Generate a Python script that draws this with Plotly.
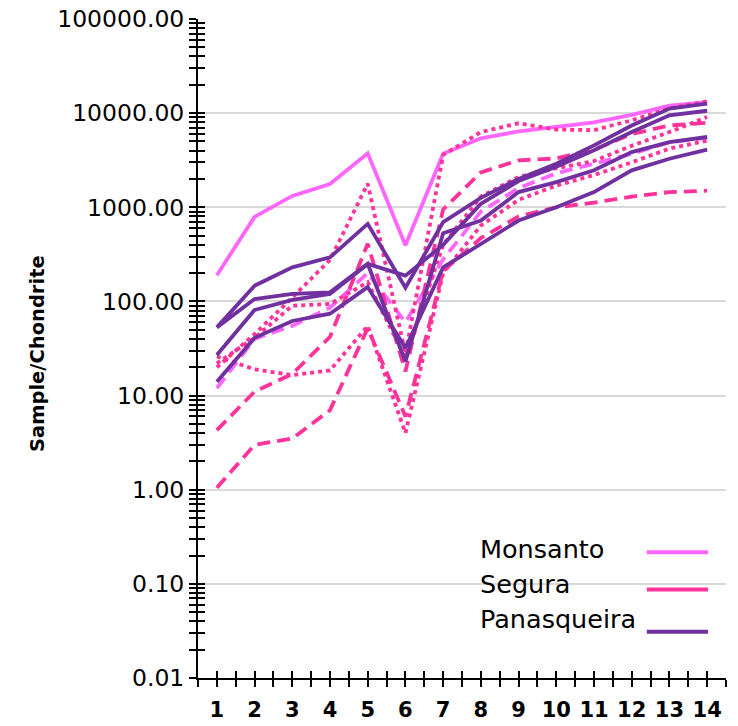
import plotly.graph_objects as go

# REE-style chondrite-normalised patterns, 14 elements per sample
positions = list(range(1, 15))
position_labels = [str(p) for p in positions]

# Monsanto samples
monsanto_a = [190, 790, 1320, 1770, 3750, 395, 3700, 5400, 6400, 7100, 8000, 9600, 12000, 13100]
monsanto_b = [12, 40, 55, 86, 200, 60, 280, 900, 1600, 2300, 2900, 3700, 4900, 5500]

# Segura samples
segura_a = [1.05, 3.0, 3.5, 7, 52, 6, 210, 470, 800, 1000, 1120, 1300, 1450, 1500]
segura_b = [4.3, 11, 17, 42, 410, 18, 950, 2350, 3150, 3300, 4100, 6000, 7400, 7900]
segura_c = [20, 45, 110, 276, 1780, 28, 3600, 6300, 7800, 6700, 6600, 8400, 11200, 13400]
segura_d = [22, 41, 90, 94, 160, 25, 400, 1300, 2100, 2600, 3100, 4500, 6300, 9100]
segura_e = [26, 19, 16.5, 18.5, 55, 4, 200, 640, 1200, 1700, 2200, 3000, 4200, 5100]

# Panasqueira samples
panas_a = [53, 147, 230, 294, 667, 140, 695, 1260, 2000, 2900, 4550, 7400, 11200, 12600]
panas_b = [53, 106, 120, 125, 250, 188, 400, 1090, 1900, 2700, 4030, 6300, 9500, 10600]
panas_c = [27, 81, 104, 120, 250, 23, 530, 723, 1450, 1850, 2470, 3860, 4930, 5580]
panas_d = [14, 41, 62, 74, 142, 32, 230, 408, 723, 1000, 1450, 2470, 3280, 4090]

legend_names = ["Monsanto", "Segura", "Panasqueira"]
MONS = "#FF66FF"
SEG = "#FF3399"
PAN = "#7030A0"
DASH = "13px,7px"
DOT = "4px,4px"
LW = 3.8

series = [
    (monsanto_b, MONS, DASH),
    (monsanto_a, MONS, "solid"),
    (segura_a, SEG, DASH),
    (segura_b, SEG, DASH),
    (segura_c, SEG, DOT),
    (segura_d, SEG, DOT),
    (segura_e, SEG, DOT),
    (panas_a, PAN, "solid"),
    (panas_b, PAN, "solid"),
    (panas_c, PAN, "solid"),
    (panas_d, PAN, "solid"),
]

fig = go.Figure()
for vals, col, dash in series:
    fig.add_trace(go.Scatter(
        x=positions, y=vals, mode="lines",
        line=dict(color=col, width=LW, dash=dash),
        showlegend=False, hoverinfo="skip",
    ))

# empty trace so the overlay axes (crossing tick marks) are drawn
fig.add_trace(go.Scatter(x=[], y=[], xaxis="x2", yaxis="y2", showlegend=False))

decades = [10.0 ** k for k in range(-2, 6)]
decade_text = [f"{d:.2f}" for d in decades]
minor_y = [m * 10.0 ** k for k in range(-2, 5) for m in range(2, 10)]
half_x = [p + 0.5 for p in range(0, 15)]

tick_font = dict(family="DejaVu Sans", size=23.5, color="black")
xlab_font = dict(family="DejaVu Sans", size=21, color="black", weight="bold")

fig.update_layout(
    width=738, height=726,
    margin=dict(l=198, r=12, t=19, b=48),
    paper_bgcolor="white", plot_bgcolor="white",
    xaxis=dict(
        range=[0.5, 14.5], tickmode="array", tickvals=positions, ticktext=position_labels,
        tickfont=xlab_font, ticks="outside", ticklen=7, tickwidth=2, tickcolor="black",
        minor=dict(tickmode="array", tickvals=half_x, ticks="outside", ticklen=7,
                   tickwidth=2, tickcolor="black", showgrid=False),
        showline=True, linecolor="black", linewidth=2, showgrid=False, zeroline=False,
        ticklabelstandoff=5, automargin=False,
    ),
    xaxis2=dict(
        range=[0.5, 14.5], overlaying="x", anchor="y2", side="bottom",
        tickmode="array", tickvals=positions, ticks="inside", ticklen=7, tickwidth=2,
        tickcolor="black", showticklabels=False, showgrid=False, zeroline=False,
        automargin=False,
        minor=dict(tickmode="array", tickvals=half_x, ticks="inside", ticklen=7,
                   tickwidth=2, tickcolor="black", showgrid=False),
    ),
    yaxis=dict(
        type="log", range=[-2, 5], tickmode="array", tickvals=decades, ticktext=decade_text,
        tickfont=tick_font, ticks="outside", ticklen=7, tickwidth=2, tickcolor="black",
        minor=dict(tickmode="array", tickvals=minor_y, ticks="outside", ticklen=7,
                   tickwidth=2, tickcolor="black", showgrid=False),
        showline=True, linecolor="black", linewidth=2, automargin=False,
        showgrid=True, gridcolor="#d9d9d9", gridwidth=2, zeroline=False,
    ),
    yaxis2=dict(
        type="log", range=[-2, 5], overlaying="y", anchor="x2", side="left",
        tickmode="array", tickvals=decades, ticks="inside", ticklen=7, tickwidth=2,
        tickcolor="black", showticklabels=False, showgrid=False, zeroline=False,
        automargin=False,
        minor=dict(tickmode="array", tickvals=minor_y, ticks="inside", ticklen=7,
                   tickwidth=2, tickcolor="black", showgrid=False),
    ),
)

# y-axis title
fig.add_annotation(
    text="<b>Sample/Chondrite</b>", textangle=-90, xref="paper", yref="paper",
    x=-0.305, y=0.493, xanchor="center", yanchor="middle", showarrow=False,
    font=dict(family="DejaVu Sans", size=19.5, color="black"),
)

# legend: name on the left, line sample on the right
legend_colors = [MONS, SEG, PAN]
text_y = [0.1955, 0.143, 0.089]
line_y = [0.1907, 0.1344, 0.070]
for name, col, ty, ly in zip(legend_names, legend_colors, text_y, line_y):
    fig.add_annotation(
        text=name, xref="paper", yref="paper", x=0.530, y=ty,
        xanchor="left", yanchor="middle", showarrow=False,
        font=dict(family="DejaVu Sans", size=25.5, color="black"),
    )
    fig.add_shape(
        type="line", xref="paper", yref="paper", x0=0.850, x1=0.966, y0=ly, y1=ly,
        line=dict(color=col, width=4),
    )

fig.write_html("out.html")
